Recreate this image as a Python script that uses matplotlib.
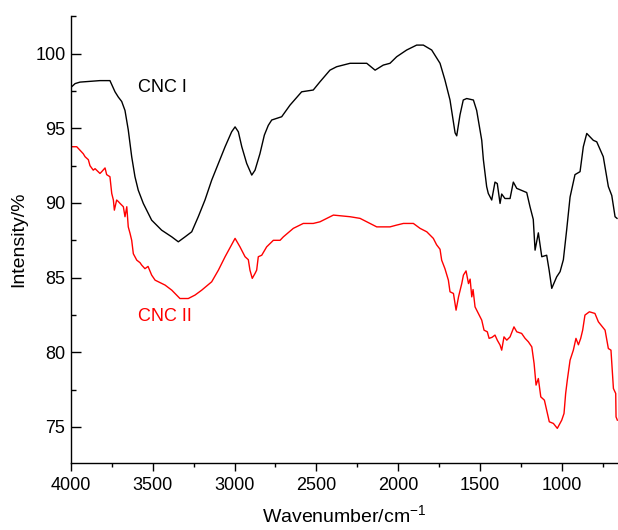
import matplotlib
matplotlib.use("Agg")
import matplotlib.pyplot as plt
from matplotlib.ticker import MultipleLocator

plt.rcParams['font.family'] = ['Liberation Sans', 'DejaVu Sans']
plt.rcParams['mathtext.fontset'] = 'custom'
plt.rcParams['mathtext.rm'] = 'Liberation Sans'
plt.rcParams['mathtext.it'] = 'Liberation Sans'

# CNC I (black)
wn_cnc1 = [4000, 3975, 3945, 3884, 3823, 3762, 3731, 3711, 3690, 3670, 3650, 3629,
           3609, 3589, 3558, 3507, 3446, 3384, 3344, 3303, 3262, 3222, 3181, 3140,
           3099, 3058, 3018, 2997, 2977, 2956, 2926, 2895, 2875, 2845, 2818, 2794,
           2773, 2712, 2661, 2590, 2519, 2478, 2417, 2376, 2294, 2192, 2141, 2091,
           2050, 2009, 1948, 1887, 1846, 1795, 1744, 1714, 1683, 1652, 1642, 1622,
           1602, 1581, 1540, 1520, 1489, 1479, 1459, 1449, 1428, 1408, 1394, 1377,
           1367, 1347, 1316, 1296, 1275, 1214, 1194, 1174, 1163, 1143, 1122, 1092,
           1077, 1061, 1031, 1010, 990, 970, 949, 919, 888, 868, 847, 807, 786, 746,
           715, 694, 674, 662]
int_cnc1 = [97.75, 98.0, 98.1, 98.15, 98.2, 98.2, 97.45, 97.1, 96.8, 96.2, 94.9, 93.1,
            91.76, 90.86, 89.97, 88.85, 88.18, 87.73, 87.4, 87.73, 88.07, 89.08, 90.2, 91.53,
            92.65, 93.77, 94.77, 95.1, 94.77, 93.77, 92.65, 91.87, 92.2, 93.3, 94.55, 95.2,
            95.56, 95.78, 96.56, 97.45, 97.57, 98.12, 98.9, 99.13, 99.36, 99.36, 98.9, 99.24,
            99.36, 99.8, 100.25, 100.58, 100.58, 100.25, 99.36, 98.24, 96.9, 94.7, 94.5, 95.9,
            96.9, 97.0, 96.9, 96.2, 94.2, 92.9, 91.1, 90.64, 90.2, 91.4, 91.3, 89.97,
            90.6, 90.3, 90.3, 91.4, 90.98, 90.7, 89.75, 88.9, 86.84, 88.0, 86.4, 86.5,
            85.5, 84.28, 85.05, 85.4, 86.2, 88.18, 90.4, 91.9, 92.1, 93.77, 94.66, 94.2, 94.1, 93.1,
            91.1, 90.5, 89.08, 88.97]

# CNC II (red)
wn_cnc2 = [4000, 3965, 3925, 3914, 3894, 3884, 3864, 3853, 3823, 3812, 3792, 3782,
           3762, 3751, 3741, 3735, 3721, 3711, 3700, 3680, 3670, 3659, 3650, 3639,
           3629, 3619, 3598, 3578, 3568, 3548, 3529, 3507, 3486, 3446, 3425, 3384,
           3334, 3283, 3242, 3201, 3140, 3099, 3058, 2997, 2967, 2936, 2916, 2906,
           2892, 2875, 2865, 2855, 2834, 2804, 2763, 2722, 2702, 2641, 2580, 2519,
           2478, 2396, 2294, 2233, 2192, 2131, 2050, 2009, 1968, 1907, 1866, 1825,
           1785, 1765, 1744, 1734, 1714, 1693, 1683, 1662, 1646, 1631, 1611, 1601,
           1585, 1570, 1560, 1550, 1542, 1530, 1510, 1489, 1475, 1455, 1444, 1426,
           1408, 1394, 1377, 1367, 1353, 1336, 1316, 1292, 1275, 1245, 1224, 1204,
           1183, 1169, 1157, 1143, 1128, 1106, 1092, 1076, 1051, 1027, 1000, 986,
           976, 966, 949, 929, 913, 898, 884, 872, 858, 831, 797, 776, 735, 715,
           699, 684, 670, 668, 660]
int_cnc2 = [93.77, 93.77, 93.3, 93.1, 92.9, 92.5, 92.2, 92.3, 91.98, 92.1, 92.35, 91.9,
            91.76, 90.64, 90.2, 89.52, 90.2, 90.1, 89.97, 89.75, 89.08, 89.75, 88.4, 87.96,
            87.5, 86.6, 86.17, 86.0, 85.84, 85.6, 85.75, 85.17, 84.83, 84.61, 84.5, 84.16,
            83.6, 83.6, 83.83, 84.16, 84.72, 85.5, 86.4, 87.63, 87.06, 86.4, 86.2, 85.5,
            84.95, 85.28, 85.5, 86.4, 86.5, 87.06, 87.5, 87.5, 87.73, 88.3, 88.63, 88.63,
            88.74, 89.19, 89.08, 88.97, 88.74, 88.4, 88.4, 88.52, 88.63, 88.63, 88.3, 88.07,
            87.63, 87.2, 86.9, 86.17, 85.6, 84.83, 84.05, 83.94, 82.82, 83.71, 84.61, 85.17,
            85.45, 84.6, 84.9, 83.71, 84.2, 83.04, 82.6, 82.15, 81.48, 81.37, 80.93, 81.0,
            81.15, 80.81, 80.48, 80.14, 81.03, 80.81, 81.03, 81.7, 81.37, 81.26, 80.93, 80.7,
            80.36, 79.25, 77.8, 78.24, 77.01, 76.79, 76.12, 75.34, 75.23, 74.9, 75.45, 75.9,
            77.24, 78.13, 79.47, 80.14, 80.93, 80.5, 80.93, 81.48, 82.49, 82.71, 82.6, 82.04, 81.48, 80.25,
            80.14, 77.57, 77.24, 75.67, 75.45]

fig = plt.figure(figsize=(6.18, 5.30), dpi=100)
ax = fig.add_axes([0.1149, 0.127, 0.8851, 0.8434])

ax.plot(wn_cnc1, int_cnc1, color='black', lw=1.0)
ax.plot(wn_cnc2, int_cnc2, color='#ff0000', lw=1.0)

ax.set_xlim(4000, 656)
ax.set_ylim(72.6, 102.55)

ax.xaxis.set_major_locator(MultipleLocator(500))
ax.xaxis.set_minor_locator(MultipleLocator(250))
ax.yaxis.set_major_locator(MultipleLocator(5))
ax.yaxis.set_minor_locator(MultipleLocator(2.5))

for s in ['top', 'right']:
    ax.spines[s].set_visible(False)
for s in ['left', 'bottom']:
    ax.spines[s].set_linewidth(1.0)

ax.tick_params(axis='x', which='major', direction='out', length=6, width=1.0, labelsize=13, pad=4)
ax.tick_params(axis='x', which='minor', direction='out', length=3, width=1.0)
ax.tick_params(axis='y', which='major', direction='in', length=7, width=1.0, labelsize=13, pad=4)
ax.tick_params(axis='y', which='minor', direction='in', length=3.5, width=1.0)

ax.text(3590, 97.75, 'CNC I', color='black', fontsize=13, va='center', ha='left')
ax.text(3590, 82.4, 'CNC II', color='#ff0000', fontsize=13, va='center', ha='left')

ax.set_ylabel('Intensity/%', fontsize=14, labelpad=6)
ax.set_xlabel(r'Wavenumber/cm$^{-1}$', fontsize=14, labelpad=8)

fig.savefig('out.png', dpi=100)
